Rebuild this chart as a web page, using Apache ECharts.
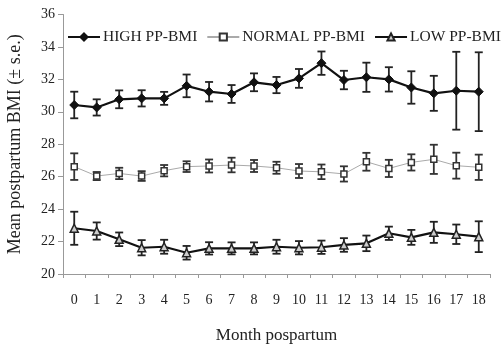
<!DOCTYPE html>
<html>
<head>
<meta charset="utf-8">
<script src="https://cdn.jsdelivr.net/npm/echarts@6/dist/echarts.min.js"></script>
<style>html,body{margin:0;padding:0;background:#fff}#c{width:503px;height:344px}</style>
</head>
<body>
<div id="c"></div>
<script>
const months = ['0','1','2','3','4','5','6','7','8','9','10','11','12','13','14','15','16','17','18'];
const yTicks = [20, 22, 24, 26, 28, 30, 32, 34, 36];
const highMean = [30.42,30.27,30.77,30.83,30.83,31.6,31.24,31.1,31.82,31.65,32.06,33.0,31.96,32.13,32.0,31.5,31.14,31.3,31.24];
const highErr  = [0.82,0.5,0.55,0.5,0.4,0.7,0.6,0.55,0.55,0.5,0.58,0.72,0.57,0.9,0.75,1.0,1.08,2.4,2.43];
const normalMean = [26.62,26.04,26.2,26.04,26.37,26.62,26.66,26.72,26.66,26.55,26.35,26.3,26.17,26.92,26.51,26.88,27.07,26.68,26.58];
const normalErr  = [0.82,0.25,0.35,0.3,0.35,0.33,0.4,0.45,0.37,0.37,0.43,0.45,0.47,0.55,0.53,0.5,0.9,0.8,0.78];
const lowMean = [22.82,22.65,22.14,21.62,21.68,21.31,21.58,21.58,21.58,21.68,21.62,21.65,21.79,21.89,22.51,22.26,22.57,22.45,22.3];
const lowErr  = [1.02,0.53,0.42,0.47,0.43,0.42,0.38,0.37,0.37,0.43,0.41,0.41,0.42,0.48,0.41,0.46,0.65,0.6,0.95];
const seriesNames = ['HIGH PP-BMI', 'NORMAL PP-BMI', 'LOW PP-BMI'];

const FONT = 'Liberation Serif';
function errData(mean, err) {
  return mean.map((m, i) => [i, m - err[i], m + err[i]]);
}
function errSeries(mean, err, color) {
  return {
    type: 'custom',
    z: 1,
    silent: true,
    data: errData(mean, err),
    renderItem: function (params, api) {
      const x = api.value(0);
      const lo = api.coord([x, api.value(1)]);
      const hi = api.coord([x, api.value(2)]);
      const hw = 4;
      const style = { stroke: color, lineWidth: 1.8 };
      return {
        type: 'group',
        children: [
          { type: 'line', shape: { x1: lo[0], y1: lo[1], x2: hi[0], y2: hi[1] }, style: style },
          { type: 'line', shape: { x1: lo[0] - hw, y1: lo[1], x2: lo[0] + hw, y2: lo[1] }, style: style },
          { type: 'line', shape: { x1: hi[0] - hw, y1: hi[1], x2: hi[0] + hw, y2: hi[1] }, style: style }
        ]
      };
    }
  };
}

const chart = echarts.init(document.getElementById('c'), null, { renderer: 'canvas' });
chart.setOption({
  animation: false,
  backgroundColor: '#fff',
  textStyle: { fontFamily: FONT },
  grid: { left: 63, right: 13, top: 14.5, bottom: 70, containLabel: false, outerBoundsMode: 'none' },
  legend: {
    data: seriesNames,
    left: 67,
    top: 29,
    width: 440,
    padding: 0,
    itemWidth: 32,
    itemHeight: 9,
    itemGap: 9,
    textStyle: { fontFamily: FONT, fontSize: 15.5, color: '#222', padding: [0, 0, 0, -2] }
  },
  xAxis: {
    type: 'category',
    data: months,
    boundaryGap: true,
    name: 'Month pospartum',
    nameLocation: 'middle',
    nameGap: 53,
    nameTextStyle: { fontFamily: FONT, fontSize: 17, color: '#222' },
    axisLine: { lineStyle: { color: '#999', width: 1 } },
    axisTick: { show: true, length: 4, alignWithLabel: false, lineStyle: { color: '#999' } },
    axisLabel: { fontFamily: FONT, fontSize: 14, color: '#222', margin: 19, interval: 0 }
  },
  yAxis: {
    type: 'value',
    min: yTicks[0],
    max: yTicks[yTicks.length - 1],
    interval: 2,
    name: 'Mean postpartum BMI (\u00b1 s.e.)',
    nameLocation: 'middle',
    nameGap: 39,
    nameTextStyle: { fontFamily: FONT, fontSize: 18, color: '#222' },
    axisLine: { show: true, lineStyle: { color: '#999', width: 1 } },
    axisTick: { show: true, length: 5, lineStyle: { color: '#999' } },
    splitLine: { show: false },
    axisLabel: { fontFamily: FONT, fontSize: 14, color: '#222', margin: 8 }
  },
  series: [
    errSeries(highMean, highErr, '#222'),
    errSeries(normalMean, normalErr, '#333'),
    errSeries(lowMean, lowErr, '#222'),
    {
      name: seriesNames[0], type: 'line', z: 3, data: highMean,
      symbol: 'diamond', symbolSize: 9,
      lineStyle: { color: '#111', width: 2.2 },
      itemStyle: { color: '#111', borderColor: '#111', borderWidth: 1 }
    },
    {
      name: seriesNames[1], type: 'line', z: 3, data: normalMean,
      symbol: 'rect', symbolSize: 6,
      lineStyle: { color: '#aaa', width: 1 },
      itemStyle: { color: '#fff', borderColor: '#333', borderWidth: 1.5 }
    },
    {
      name: seriesNames[2], type: 'line', z: 3, data: lowMean,
      symbol: 'triangle', symbolSize: 8,
      lineStyle: { color: '#111', width: 2.2 },
      itemStyle: { color: '#ccc', borderColor: '#222', borderWidth: 1.5 }
    }
  ]
});
</script>
</body>
</html>
